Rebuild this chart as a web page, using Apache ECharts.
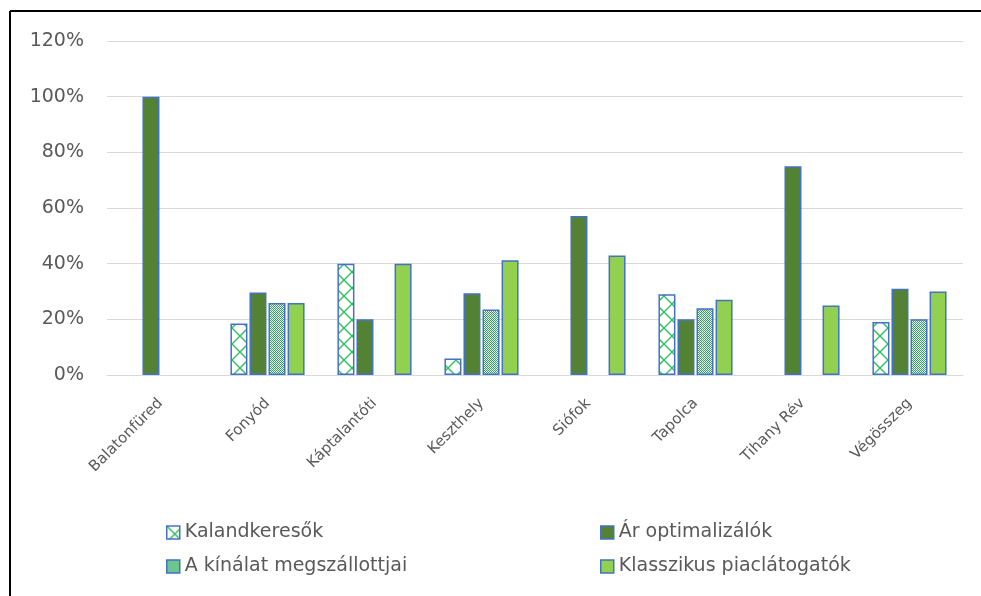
<!DOCTYPE html>
<html>
<head>
<meta charset="utf-8">
<script src="https://cdn.jsdelivr.net/npm/echarts@6/dist/echarts.min.js"></script>
<style>
  html, body { margin: 0; padding: 0; background: #ffffff; }
  #chart { width: 981px; height: 596px; }
</style>
</head>
<body>
<div id="chart"></div>
<script>
// Towns (categories)
const categories = ['Balatonfüred', 'Fonyód', 'Káptalantóti', 'Keszthely', 'Siófok', 'Tapolca', 'Tihany Rév', 'Végösszeg'];

// Share of each visitor type per town (null = no bar)
const kalandkeresok = [null, 0.185, 0.40, 0.059, null, 0.29, null, 0.19];
const arOptimalizalok = [1.00, 0.296, 0.20, 0.294, 0.571, 0.20, 0.75, 0.31];
const kinalatMegszallottjai = [null, 0.259, null, 0.235, null, 0.24, null, 0.20];
const klasszikusPiaclatogatok = [null, 0.259, 0.40, 0.412, 0.429, 0.27, 0.25, 0.30];

// Y axis ticks
const yMin = 0, yMax = 1.2, yStep = 0.2;

const seriesNames = ['Kalandkeresők', 'Ár optimalizálók', 'A kínálat megszállottjai', 'Klasszikus piaclátogatók'];

// Pattern tiles
function latticeTile() {
  const c = document.createElement('canvas');
  c.width = 16; c.height = 16;
  const g = c.getContext('2d');
  g.fillStyle = '#ffffff';
  g.fillRect(0, 0, 16, 16);
  g.strokeStyle = '#2fbf5f';
  g.lineWidth = 1.4;
  g.beginPath();
  g.moveTo(0, 0); g.lineTo(16, 16);
  g.moveTo(16, 0); g.lineTo(0, 16);
  g.stroke();
  return c;
}
function checkerTile() {
  const c = document.createElement('canvas');
  c.width = 2; c.height = 2;
  const g = c.getContext('2d');
  g.fillStyle = '#ffffff';
  g.fillRect(0, 0, 2, 2);
  g.fillStyle = '#1fae55';
  g.fillRect(0, 0, 1, 1);
  g.fillRect(1, 1, 1, 1);
  return c;
}

const blue = '#4472C4';
const fills = [
  { image: latticeTile(), repeat: 'repeat' },
  '#548235',
  { image: checkerTile(), repeat: 'repeat' },
  '#92D050'
];
// Legend swatches for the patterned series
const legendFills = [
  { image: latticeTile(), repeat: 'repeat' },
  '#548235',
  '#6cc68f',
  '#92D050'
];
const seriesData = [kalandkeresok, arOptimalizalok, kinalatMegszallottjai, klasszikusPiaclatogatok];

const font = 'DejaVu Sans';
const textColor = '#595959';

const legendPos = [
  { left: 161, top: 518 },
  { left: 595, top: 518 },
  { left: 161, top: 552 },
  { left: 595, top: 552 }
];

const chart = echarts.init(document.getElementById('chart'), null, { renderer: 'canvas' });
chart.setOption({
  animation: false,
  backgroundColor: '#ffffff',
  grid: { left: 107, right: 18, top: 41, bottom: 221, containLabel: false },
  legend: seriesNames.map((n, i) => ({
    data: [{ name: n, itemStyle: { color: legendFills[i], borderColor: blue, borderWidth: 1.5 } }],
    left: legendPos[i].left,
    top: legendPos[i].top,
    icon: 'rect',
    itemWidth: 13,
    itemHeight: 13,
    selectedMode: false,
    textStyle: { fontFamily: font, fontSize: 19, color: textColor }
  })),
  xAxis: {
    type: 'category',
    data: categories,
    axisLine: { show: true, lineStyle: { color: '#d9d9d9', width: 1 } },
    axisTick: { show: false },
    axisLabel: { interval: 0, rotate: 45, margin: 26, fontFamily: font, fontSize: 15, color: textColor }
  },
  yAxis: {
    type: 'value',
    min: yMin, max: yMax, interval: yStep,
    axisLine: { show: false },
    axisTick: { show: false },
    splitLine: { lineStyle: { color: '#d9d9d9', width: 1 } },
    axisLabel: {
      margin: 23, fontFamily: font, fontSize: 19, color: textColor,
      formatter: v => Math.round(v * 100) + '%'
    }
  },
  series: seriesNames.map((n, i) => ({
    name: n,
    type: 'bar',
    data: seriesData[i],
    barWidth: 17,
    barGap: '12%',
    itemStyle: { color: fills[i], borderColor: blue, borderWidth: 1.5 }
  })),
  graphic: [
    { type: 'line', shape: { x1: 10, y1: 11, x2: 981, y2: 11 }, style: { stroke: '#000000', lineWidth: 2 } },
    { type: 'line', shape: { x1: 10, y1: 11, x2: 10, y2: 596 }, style: { stroke: '#000000', lineWidth: 2 } }
  ]
});
</script>
</body>
</html>
